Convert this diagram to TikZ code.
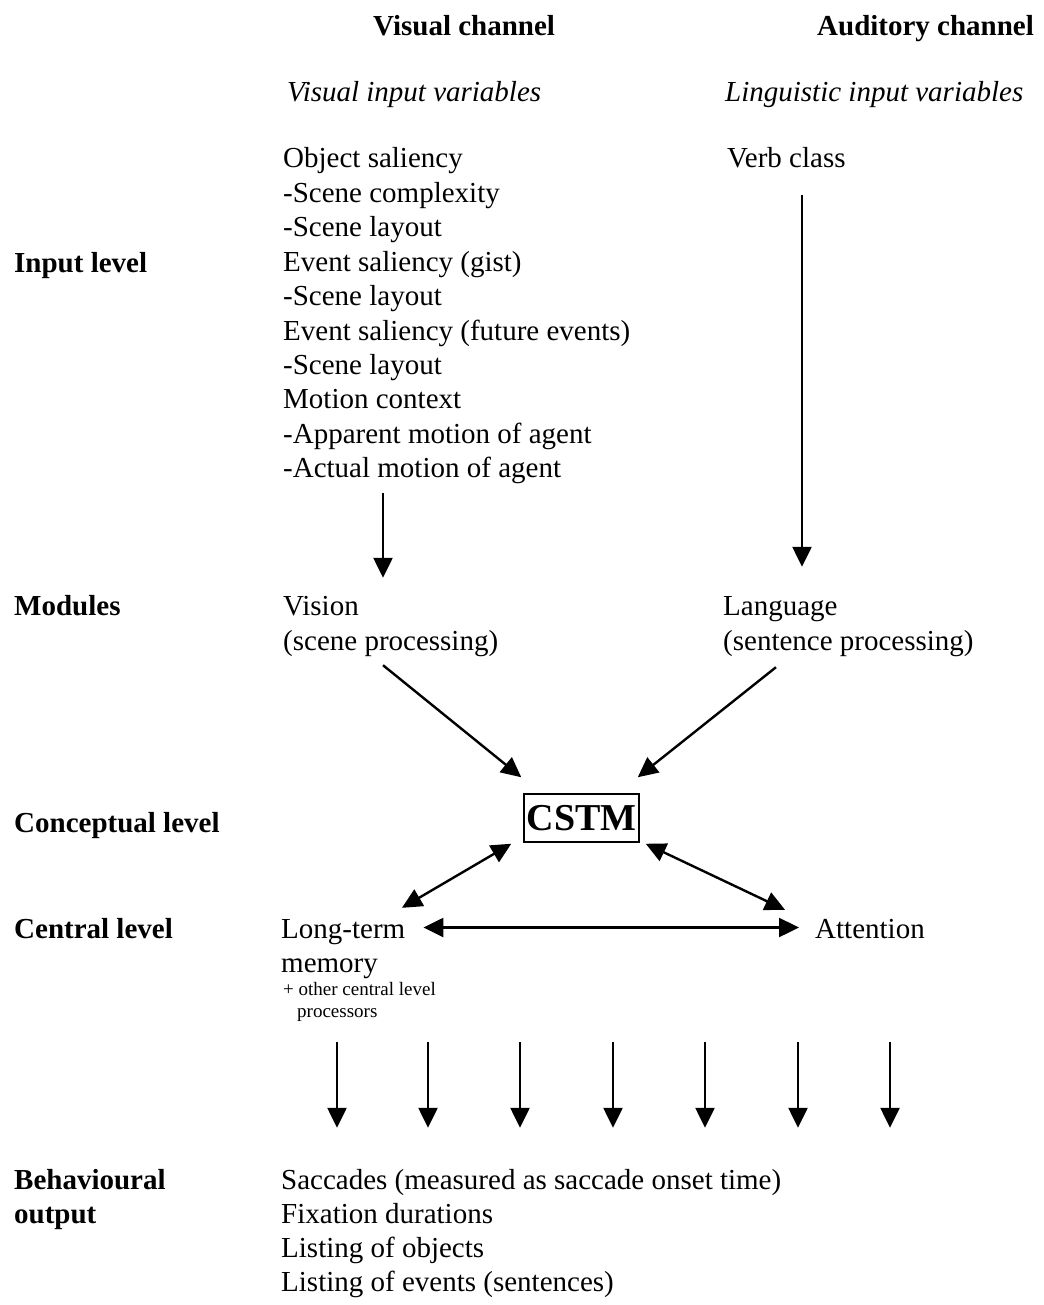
\documentclass[tikz,border=0pt]{standalone}
\usepackage{fontspec}
\setmainfont{Liberation Serif}
\usetikzlibrary{arrows.meta,positioning,calc}

\begin{document}
\begin{tikzpicture}[x=1pt,y=-1pt,font=\fontsize{29}{34.5}\selectfont,inner sep=0pt]
        \tikzstyle{t}=[anchor=base west,text height=20pt,text depth=7pt]
        \tikzstyle{hd}=[t,font=\fontsize{29}{34.5}\selectfont\bfseries]
        \tikzstyle{it}=[t,font=\fontsize{29}{34.5}\selectfont\itshape]
        \tikzstyle{sm}=[anchor=base west,font=\fontsize{19}{22}\selectfont]
        \tikzstyle{ar}=[line width=2.4pt,-{Triangle[length=20pt,width=19pt]}]
        \tikzstyle{dar}=[line width=2.4pt,{Triangle[length=20pt,width=19pt]}-{Triangle[length=20pt,width=19pt]}]
        \useasboundingbox (0,0) rectangle (1043,1305);
        % column headers
        \node[hd] (vch) at (373,36) {Visual channel};
        \node[hd] (ach) at (817,36) {Auditory channel};
        \node[it] (vin) at (287,102) {Visual input variables};
        \node[it] (lin) at (725,102) {Linguistic input variables};
        % level labels
        \node[hd] (lin1) at (14,273) {Input level};
        \node[hd] (lmod) at (14,615) {Modules};
        \node[hd] (lcon) at (14,832) {Conceptual level};
        \node[hd] (lcen) at (14,938) {Central level};
        \node[hd] (lbeh) at (14,1189) {Behavioural};
        \node[hd] (lout) at (14,1223) {output};
        % input variables
        \foreach \s [count=\i] in {Object saliency,-Scene complexity,-Scene layout,Event saliency (gist),-Scene layout,Event saliency (future events),-Scene layout,Motion context,-Apparent motion of agent,-Actual motion of agent}
          \node[t] (in\i) at (283,133.6+34.4*\i) {\s};
        \node[t] (verb) at (727,168) {Verb class};
        % modules
        \node[t] (vis) at (283,615) {Vision};
        \node[t] (vis2) at (283,650) {(scene processing)};
        \node[t] (lang) at (723,615) {Language};
        \node[t] (lang2) at (723,650) {(sentence processing)};
        % conceptual and central level
        \node[draw,line width=1.5pt,minimum width=115pt,minimum height=48pt,font=\fontsize{38}{40}\selectfont\bfseries] (cstm) at (581.5,818) {CSTM};
        \node[t] (lt) at (281,938) {Long-term};
        \node[t] (mem) at (281,972) {memory};
        \node[sm] (oth) at (283,995) {+ other central level};
        \node[sm] (proc) at (297,1017) {processors};
        \node[t] (att) at (815,938) {Attention};
        % behavioural output
        \foreach \s [count=\i] in {Saccades (measured as saccade onset time),Fixation durations,Listing of objects,Listing of events (sentences)}
          \node[t] (out\i) at (281,1154.7+34.3*\i) {\s};
        % connectors
        \draw[ar] ($(in10.south west)+(100,8)$) -- ($(vis.north west)+(100,-17)$);
        \draw[ar] ($(verb.south west)+(75,20)$) -- ($(lang.north west)+(79,-28)$);
        \draw[ar] ($(vis2.south west)+(100,8)$) -- ($(cstm.north west)+(-2,-16)$);
        \draw[ar] ($(lang2.south west)+(53,10)$) -- ($(cstm.north east)+(-2,-16)$);
        \draw[dar] ($(lt.north west)+(121,-10)$) -- ($(cstm.south west)+(-12,1)$);
        \draw[dar] ($(att.north west)+(-30,-8)$) -- ($(cstm.south east)+(6,1)$);
        \draw[dar] ($(lt.east)+(18,-4)$) -- ($(att.west)+(-16,-4)$);
        \foreach \dx in {56,147,239,332,424,517,609}
          \draw[ar] ($(out1.north west)+(\dx,-127)$) -- ($(out1.north west)+(\dx,-41)$);
      \end{tikzpicture}
\end{document}
